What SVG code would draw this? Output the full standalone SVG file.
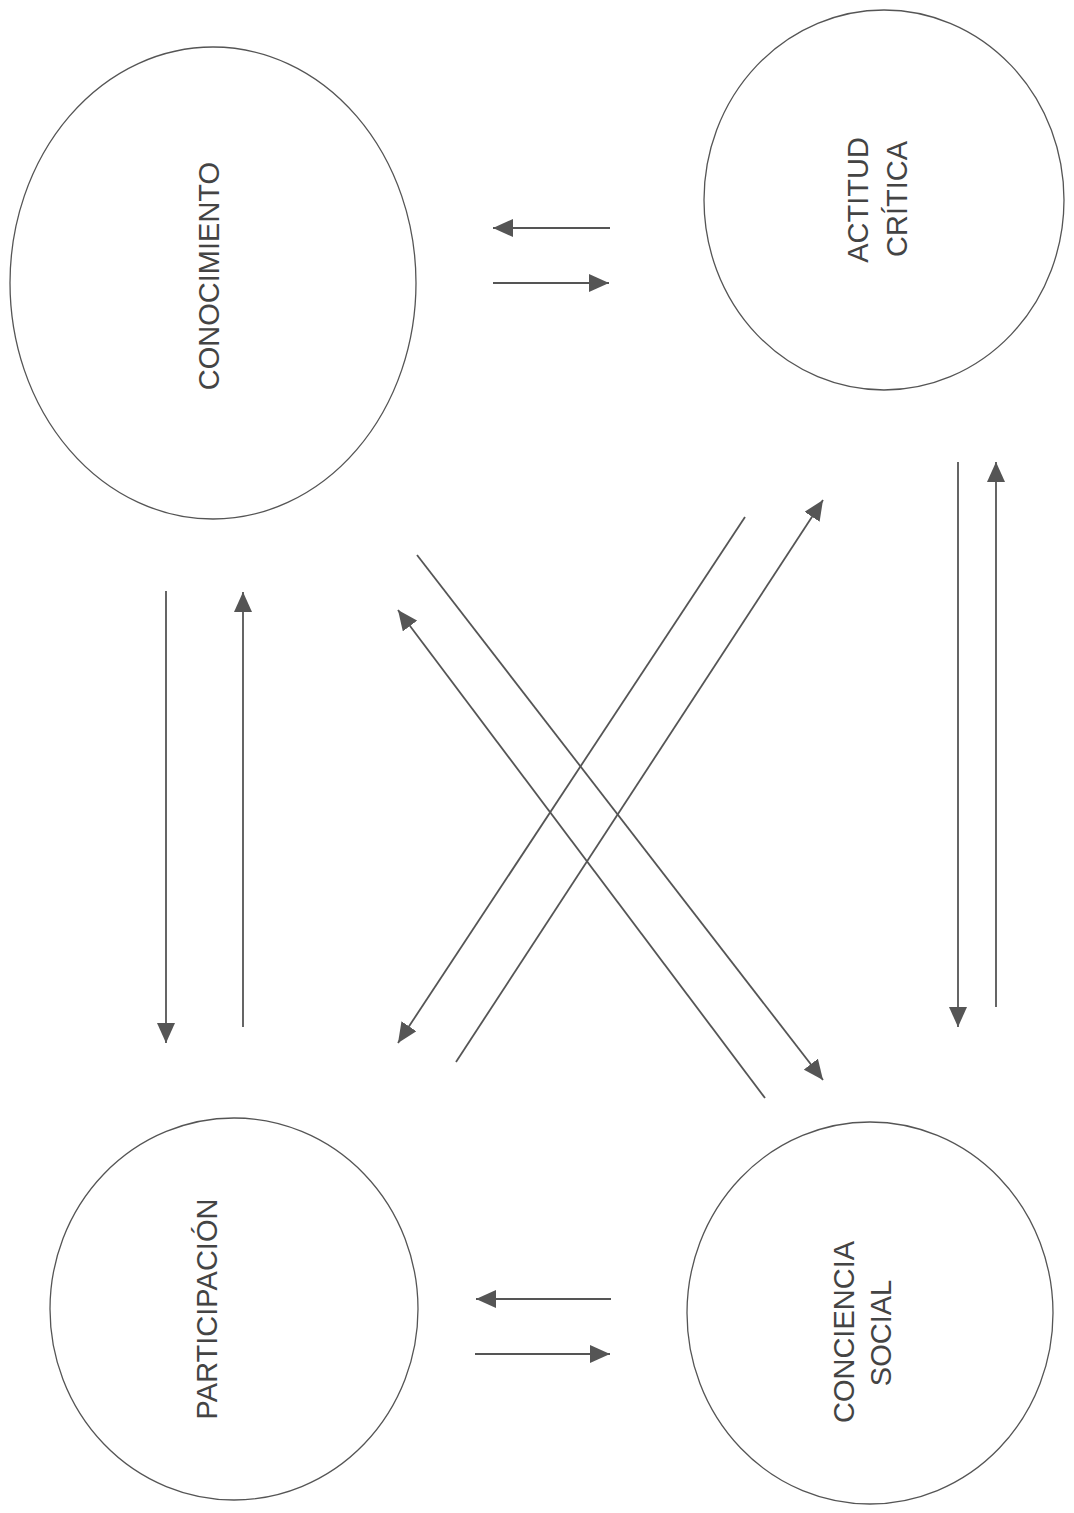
<svg xmlns="http://www.w3.org/2000/svg" width="1074" height="1513" viewBox="0 0 1074 1513">
<style>
.node ellipse{fill:none;stroke:#555;stroke-width:1.3}
.lbl{font-family:"Liberation Sans",Arial,sans-serif;font-size:29px;fill:#444;text-anchor:middle}
.conn line{stroke:#555;stroke-width:1.8;fill:none;marker-end:url(#ah)}
</style>
<defs>
<marker id="ah" markerUnits="userSpaceOnUse" markerWidth="20" markerHeight="18" refX="20" refY="9" orient="auto" viewBox="0 0 20 18">
<path d="M0,0 L20,9 L0,18 z" fill="#555"/>
</marker>
</defs>
<rect width="1074" height="1513" fill="#fff"/>
<g id="conocimiento" class="node">
<ellipse cx="213" cy="283" rx="203" ry="236"/>
<text class="lbl" transform="translate(219,276) rotate(-90)" font-size="28">CONOCIMIENTO</text>
</g>
<g id="actitud-critica" class="node">
<ellipse cx="884" cy="200" rx="180" ry="190"/>
<text class="lbl" transform="translate(868,200) rotate(-90)">ACTITUD</text>
<text class="lbl" transform="translate(907,199) rotate(-90)">CRÍTICA</text>
</g>
<g id="participacion" class="node">
<ellipse cx="234" cy="1309" rx="184" ry="191"/>
<text class="lbl" transform="translate(217,1309) rotate(-90)">PARTICIPACIÓN</text>
</g>
<g id="conciencia-social" class="node">
<ellipse cx="870" cy="1313" rx="183" ry="191"/>
<text class="lbl" transform="translate(854,1332) rotate(-90)">CONCIENCIA</text>
<text class="lbl" transform="translate(891,1333) rotate(-90)">SOCIAL</text>
</g>
<g id="connectors" class="conn">
<line x1="610" y1="228" x2="493" y2="228"/>
<line x1="493" y1="283" x2="609" y2="283"/>
<line x1="611" y1="1299" x2="476" y2="1299"/>
<line x1="475" y1="1354" x2="610" y2="1354"/>
<line x1="166" y1="591" x2="166" y2="1043"/>
<line x1="243" y1="1027" x2="243" y2="592"/>
<line x1="958" y1="462" x2="958" y2="1027"/>
<line x1="996" y1="1007" x2="996" y2="462"/>
<line x1="417" y1="555" x2="823" y2="1080"/>
<line x1="765" y1="1098" x2="398" y2="610"/>
<line x1="745" y1="517" x2="398" y2="1043"/>
<line x1="456" y1="1062" x2="823" y2="500"/>
</g>
</svg>
